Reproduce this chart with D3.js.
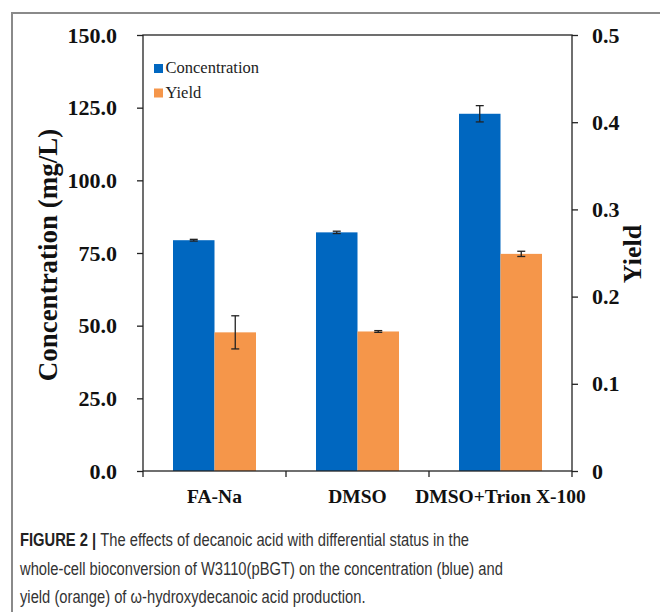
<!DOCTYPE html>
<html>
<head>
<meta charset="utf-8">
<script src="https://cdn.jsdelivr.net/npm/d3@7"></script>
<style>
  body { margin: 0; background: #fff; }
  svg { display: block; }
</style>
</head>
<body>
<svg id="chart" width="660" height="612"></svg>
<script>
var categories = ["FA-Na", "DMSO", "DMSO+Trion X-100"];
var concentration = [79.4, 82.1, 122.9];
var concentrationErr = [0.3, 0.4, 2.8];
var yieldVals = [0.159, 0.160, 0.249];
var yieldErr = [0.019, 0.001, 0.003];
var leftTicks = [0, 25, 50, 75, 100, 125, 150];
var rightTicks = [0, 0.1, 0.2, 0.3, 0.4, 0.5];

var svg = d3.select("#chart");
var serif = "'Liberation Serif', 'Times New Roman', serif";

// outer figure frame (open on right/bottom)
svg.append("path")
    .attr("d", "M12,612 L12,13 L660,13")
    .attr("fill", "none")
    .attr("stroke", "#8a8a8a")
    .attr("stroke-width", 2);

var pLeft = 143, pRight = 572, pTop = 35, pBottom = 471;

var x = d3.scaleBand().domain(categories).range([pLeft, pRight]);
var yL = d3.scaleLinear().domain([0, 150]).range([pBottom, pTop]);
var yR = d3.scaleLinear().domain([0, 0.5]).range([pBottom, pTop]);
var barW = 41.5;

var g = svg.append("g");

// bars
g.selectAll("rect.conc")
    .data(categories)
    .enter().append("rect")
    .attr("class", "conc")
    .attr("x", function (d) { return x(d) + x.bandwidth() / 2 - barW; })
    .attr("width", barW)
    .attr("y", function (d, i) { return yL(concentration[i]); })
    .attr("height", function (d, i) { return pBottom - yL(concentration[i]); })
    .attr("fill", "#0067c0");

g.selectAll("rect.yield")
    .data(categories)
    .enter().append("rect")
    .attr("class", "yield")
    .attr("x", function (d) { return x(d) + x.bandwidth() / 2; })
    .attr("width", barW)
    .attr("y", function (d, i) { return yR(yieldVals[i]); })
    .attr("height", function (d, i) { return pBottom - yR(yieldVals[i]); })
    .attr("fill", "#f5964a");

// error bars
function errBar(cx, y1, y2) {
    var e = g.append("g").attr("stroke", "#222").attr("stroke-width", 1.3);
    e.append("line").attr("x1", cx).attr("x2", cx).attr("y1", y1).attr("y2", y2);
    e.append("line").attr("x1", cx - 4).attr("x2", cx + 4).attr("y1", y1).attr("y2", y1);
    e.append("line").attr("x1", cx - 4).attr("x2", cx + 4).attr("y1", y2).attr("y2", y2);
}
categories.forEach(function (d, i) {
    var c = x(d) + x.bandwidth() / 2;
    errBar(c - barW / 2, yL(concentration[i] + concentrationErr[i]), yL(concentration[i] - concentrationErr[i]));
    errBar(c + barW / 2, yR(yieldVals[i] + yieldErr[i]), yR(yieldVals[i] - yieldErr[i]));
});

// axes
var axisL = g.append("g")
    .attr("transform", "translate(" + pLeft + ",0)")
    .call(d3.axisLeft(yL).tickValues(leftTicks).tickSize(6).tickPadding(20)
        .tickFormat(d3.format(".1f")));
var axisR = g.append("g")
    .attr("transform", "translate(" + pRight + ",0)")
    .call(d3.axisRight(yR).tickValues(rightTicks).tickSize(6).tickPadding(14)
        .tickFormat(function (d) { return d === 0 ? "0" : d3.format(".1f")(d); }));
var axisB = g.append("g")
    .attr("transform", "translate(0," + pBottom + ")")
    .call(d3.axisBottom(x).tickSize(0).tickPadding(18));

[axisL, axisR].forEach(function (a) {
    a.select(".domain").remove();
    a.selectAll("line").attr("stroke", "#222").attr("stroke-width", 1.3);
    a.selectAll("text")
        .attr("font-family", serif)
        .attr("font-weight", "bold")
        .attr("font-size", 22)
        .attr("fill", "#111");
});
axisB.select(".domain").remove();
axisB.selectAll("text")
    .attr("font-family", serif)
    .attr("font-weight", "bold")
    .attr("font-size", 19.5)
    .attr("fill", "#111");

// category boundary ticks
g.selectAll("line.xtick")
    .data(categories.concat([null]))
    .enter().append("line")
    .attr("class", "xtick")
    .attr("x1", function (d, i) { return pLeft + i * x.step(); })
    .attr("x2", function (d, i) { return pLeft + i * x.step(); })
    .attr("y1", pBottom)
    .attr("y2", pBottom + 6)
    .attr("stroke", "#222")
    .attr("stroke-width", 1.3);

// plot frame
g.append("rect")
    .attr("x", pLeft).attr("y", pTop)
    .attr("width", pRight - pLeft).attr("height", pBottom - pTop)
    .attr("fill", "none")
    .attr("stroke", "#222")
    .attr("stroke-width", 1.3);

// axis titles
svg.append("text")
    .attr("transform", "translate(56.5,255) rotate(-90)")
    .attr("text-anchor", "middle")
    .attr("font-family", serif)
    .attr("font-weight", "bold")
    .attr("font-size", 27)
    .attr("fill", "#111")
    .text("Concentration (mg/L)");
svg.append("text")
    .attr("transform", "translate(641,254) rotate(-90)")
    .attr("text-anchor", "middle")
    .attr("font-family", serif)
    .attr("font-weight", "bold")
    .attr("font-size", 26)
    .attr("fill", "#111")
    .text("Yield");

// legend
var legend = [["Concentration", "#0067c0"], ["Yield", "#f5964a"]];
var lg = svg.append("g").selectAll("g")
    .data(legend)
    .enter().append("g")
    .attr("transform", function (d, i) { return "translate(154," + (64 + i * 24.5) + ")"; });
lg.append("rect").attr("width", 9).attr("height", 9).attr("fill", function (d) { return d[1]; });
lg.append("text")
    .attr("x", 11.5).attr("y", 9)
    .attr("font-family", serif)
    .attr("font-size", 16.5)
    .attr("fill", "#222")
    .text(function (d) { return d[0]; });

// caption
var capLines = [
    "The effects of decanoic acid with differential status in the",
    "whole-cell bioconversion of W3110(pBGT) on the concentration (blue) and",
    "yield (orange) of \u03c9-hydroxydecanoic acid production."
];
var capG = svg.append("g");
var capTexts = [];
capLines.forEach(function (t, i) {
    var line = capG.append("text")
        .attr("x", 0).attr("y", 546 + i * 28.6)
        .attr("font-family", "'Liberation Sans', Arial, sans-serif")
        .attr("font-size", 18.5)
        .attr("fill", "#333");
    if (i === 0) {
        line.append("tspan").attr("font-weight", "bold").attr("fill", "#222").text("FIGURE 2 | ");
    }
    line.append("tspan").text(t);
    capTexts.push(line);
});
// squeeze to the condensed face of the original
var w2 = capTexts[1].node().getComputedTextLength();
capG.attr("transform", "translate(20,0) scale(" + (483 / w2) + ",1)");
</script>
</body>
</html>
